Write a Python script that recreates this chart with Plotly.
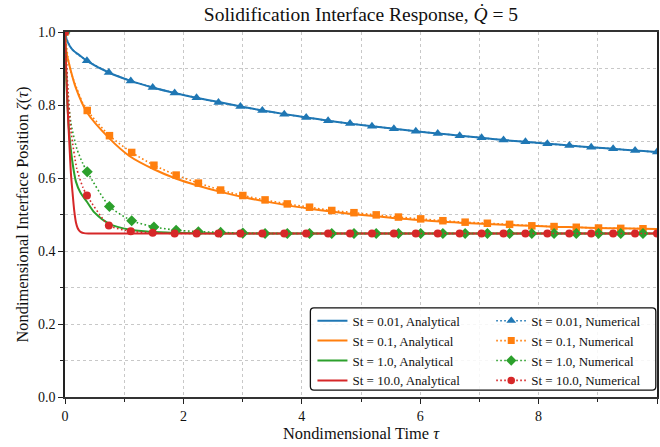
import plotly.graph_objects as go

# ---------------- data ----------------
st_labels = ["0.01", "0.1", "1.0", "10.0"]
colors = ["#1f77b4", "#ff7f0e", "#2ca02c", "#d62728"]
symbols = ["triangle-up", "square", "diamond", "circle"]
marker_sizes = [9, 7.5, 8.5, 8]

# analytical curves
tau_a_001 = [0, 0.01, 0.044, 0.128, 0.24, 0.37, 0.74, 1.11, 1.48, 1.85, 2.22, 2.6, 2.97, 3.34, 3.71,
             4.08, 4.45, 4.82, 5.19, 5.56, 5.93, 6.30, 6.67, 7.04, 7.41, 7.78, 8.15, 8.52, 8.89,
             9.26, 9.63, 10.0]
zeta_a_001 = [1.0, 0.99, 0.973, 0.951, 0.937, 0.921, 0.889, 0.866, 0.848, 0.833, 0.820, 0.808, 0.796,
              0.785, 0.775, 0.766, 0.757, 0.749, 0.742, 0.735, 0.728, 0.722, 0.716, 0.710, 0.704,
              0.699, 0.694, 0.689, 0.684, 0.680, 0.675, 0.671]

tau_a_01 = [0, 0.01, 0.03, 0.073, 0.185, 0.37, 0.74, 1.1, 1.5, 1.88, 2.25, 2.63, 3.0, 3.38, 3.76,
            4.13, 4.5, 4.88, 5.26, 5.63, 6.0, 6.4, 6.76, 7.13, 7.5, 7.9, 8.3, 8.64, 9.0, 9.4, 9.76, 10.0]
zeta_a_01 = [1.0, 0.965, 0.94, 0.91, 0.846, 0.780, 0.710, 0.659, 0.624, 0.598, 0.579, 0.562, 0.548,
             0.536, 0.525, 0.516, 0.508, 0.501, 0.495, 0.489, 0.485, 0.480, 0.477, 0.474, 0.471,
             0.469, 0.466, 0.465, 0.463, 0.462, 0.461, 0.460]

tau_a_1 = [0, 0.01, 0.03, 0.073, 0.12, 0.185, 0.26, 0.37, 0.5, 0.74, 1.1, 1.5, 2.0, 3.0, 5.0, 10.0]
zeta_a_1 = [1.0, 0.93, 0.84, 0.72, 0.65, 0.59, 0.56, 0.535, 0.505, 0.475, 0.458, 0.452, 0.449,
            0.448, 0.448, 0.448]

tau_a_10 = [0, 0.02, 0.045, 0.075, 0.101, 0.13, 0.157, 0.185, 0.213, 0.24, 0.27, 0.32, 0.4, 1.0, 10.0]
zeta_a_10 = [1.0, 0.90, 0.79, 0.69, 0.61, 0.555, 0.509, 0.478, 0.463, 0.456, 0.452, 0.449, 0.448,
             0.448, 0.448]

# numerical solutions: marker points
tau_n_001 = [k * 10 / 27 for k in range(28)]
zeta_n_001 = [1.0, 0.921, 0.889, 0.866, 0.848, 0.833, 0.820, 0.807, 0.796, 0.785, 0.775, 0.766,
              0.757, 0.749, 0.742, 0.735, 0.728, 0.722, 0.716, 0.710, 0.704, 0.699, 0.694, 0.689,
              0.684, 0.680, 0.675, 0.671]

tau_n_01 = [k * 0.3755 for k in range(27)]
zeta_n_01 = [1.0, 0.785, 0.716, 0.670, 0.635, 0.608, 0.586, 0.567, 0.552, 0.540, 0.529, 0.520,
             0.511, 0.505, 0.499, 0.493, 0.488, 0.483, 0.479, 0.476, 0.473, 0.469, 0.467, 0.465,
             0.463, 0.462, 0.461]

tau_n_1 = [k * 0.3755 for k in range(27)]
zeta_n_1 = [1.0, 0.617, 0.522, 0.483, 0.466, 0.457, 0.453, 0.451, 0.449, 0.448, 0.448, 0.448,
            0.448, 0.448, 0.448, 0.448, 0.448, 0.448, 0.448, 0.448, 0.448, 0.448, 0.448, 0.448,
            0.448, 0.448, 0.448]

tau_n_10 = [k * 10 / 27 for k in range(28)]
zeta_n_10 = [1.0, 0.552, 0.470, 0.454, 0.450, 0.448, 0.448, 0.448, 0.448, 0.448, 0.448, 0.448,
             0.448, 0.448, 0.448, 0.448, 0.448, 0.448, 0.448, 0.448, 0.448, 0.448, 0.448, 0.448,
             0.448, 0.448, 0.448, 0.448]

# numerical solutions: extra early-time points (between markers, no marker drawn)
tau_early = [0.05, 0.1, 0.2, 0.3]
zeta_early_001 = [0.972, 0.957, 0.94, 0.93]
zeta_early_01 = [0.93, 0.89, 0.845, 0.805]
zeta_early_1 = [0.83, 0.75, 0.68, 0.64]
zeta_early_10 = [0.84, 0.73, 0.625, 0.575]

tau_a = [tau_a_001, tau_a_01, tau_a_1, tau_a_10]
zeta_a = [zeta_a_001, zeta_a_01, zeta_a_1, zeta_a_10]
tau_n = [tau_n_001, tau_n_01, tau_n_1, tau_n_10]
zeta_n = [zeta_n_001, zeta_n_01, zeta_n_1, zeta_n_10]
zeta_e = [zeta_early_001, zeta_early_01, zeta_early_1, zeta_early_10]

x_ticks = [0, 2, 4, 6, 8, 10]
y_ticks = [0.0, 0.2, 0.4, 0.6, 0.8, 1.0]

FONT = "Liberation Serif, Times New Roman, serif"
DOT = "1.6px,2.4px"

fig = go.Figure()

# analytical
for i in range(4):
    fig.add_trace(go.Scatter(
        x=tau_a[i], y=zeta_a[i], mode="lines",
        line=dict(color=colors[i], width=2, shape="spline", smoothing=0.8),
        name=f"St = {st_labels[i]}, Analytical", legend="legend",
        legendgroup=f"a{i}"))

# numerical
for i in range(4):
    pts = sorted(list(zip(tau_n[i], zeta_n[i])) + list(zip(tau_early, zeta_e[i])))
    fig.add_trace(go.Scatter(
        x=[p[0] for p in pts], y=[p[1] for p in pts], mode="lines",
        line=dict(color=colors[i], width=1.6, dash=DOT, shape="spline", smoothing=0.6),
        showlegend=False, hoverinfo="skip"))
    fig.add_trace(go.Scatter(
        x=tau_n[i], y=zeta_n[i], mode="markers",
        marker=dict(color=colors[i], symbol=symbols[i], size=marker_sizes[i], line=dict(width=0)),
        showlegend=False))
    fig.add_trace(go.Scatter(
        x=[None], y=[None], mode="lines+markers",
        line=dict(color=colors[i], width=1.6, dash=DOT),
        marker=dict(color=colors[i], symbol=symbols[i], size=marker_sizes[i] - 0.5, line=dict(width=0)),
        name=f"St = {st_labels[i]}, Numerical", legend="legend2",
        legendgroup=f"n{i}"))

grid_style = dict(showgrid=True, gridcolor="#c8c8c8", griddash="dot", gridwidth=1)

fig.update_xaxes(
    range=[0, 10], tickvals=x_ticks, ticktext=[str(v) for v in x_ticks],
    ticks="outside", ticklen=5, tickwidth=1.2, tickcolor="#222",
    showline=True, linecolor="#333", linewidth=1.6, mirror=True,
    zeroline=False, **grid_style,
    minor=dict(dtick=1, tick0=0, ticks="outside", ticklen=3, tickcolor="#222",
               showgrid=True, gridcolor="#c8c8c8", griddash="dot", gridwidth=1),
    title=dict(text="Nondimensional Time <i>τ</i>", font=dict(size=16.4, family=FONT, color="#111"),
               standoff=3),
    tickfont=dict(size=14, family=FONT, color="#111"))

fig.update_yaxes(
    range=[0, 1.0], tickvals=y_ticks, ticktext=[f"{v:.1f}" for v in y_ticks],
    ticks="outside", ticklen=5, tickwidth=1.2, tickcolor="#222",
    showline=True, linecolor="#222", linewidth=1.5, mirror=True,
    zeroline=False, **grid_style,
    minor=dict(dtick=0.1, tick0=0, ticks="outside", ticklen=3, tickcolor="#222",
               showgrid=True, gridcolor="#c8c8c8", griddash="dot", gridwidth=1),
    title=dict(text="Nondimensional Interface Position <i>ζ</i>(<i>τ</i>)",
               font=dict(size=16.4, family=FONT, color="#111"), standoff=5),
    tickfont=dict(size=14, family=FONT, color="#111"))

# legend frame (rounded rectangle) around both legend columns
x0, x1, y0, y1, r = 0.4145, 0.998, 0.019, 0.244, 0.006
ry = r * 594 / 365
frame = (f"M {x0 + r},{y0} L {x1 - r},{y0} Q {x1},{y0} {x1},{y0 + ry} "
         f"L {x1},{y1 - ry} Q {x1},{y1} {x1 - r},{y1} L {x0 + r},{y1} Q {x0},{y1} {x0},{y1 - ry} "
         f"L {x0},{y0 + ry} Q {x0},{y0} {x0 + r},{y0} Z")
fig.add_shape(type="path", path=frame, xref="paper", yref="paper",
              line=dict(color="#111", width=1.3), fillcolor="rgba(255,255,255,0.85)", layer="above")

legend_common = dict(bgcolor="rgba(0,0,0,0)", borderwidth=0, yanchor="top", xanchor="left",
                     font=dict(size=13, family=FONT, color="#111"), tracegroupgap=0,
                     itemwidth=30)

fig.update_layout(
    width=660, height=447,
    margin=dict(l=65, r=1, t=32, b=50),
    plot_bgcolor="white", paper_bgcolor="white",
    font=dict(family=FONT, color="#111"),
    title=dict(text="Solidification Interface Response, <i>Q̇</i> = 5",
               x=0.5, xref="paper", xanchor="center", y=0.969, yref="container", yanchor="middle",
               font=dict(size=19.5, family=FONT, color="#111")),
    legend=dict(x=0.418, y=0.250, **legend_common),
    legend2=dict(x=0.720, y=0.250, **legend_common),
)

fig.write_html("out.html")
